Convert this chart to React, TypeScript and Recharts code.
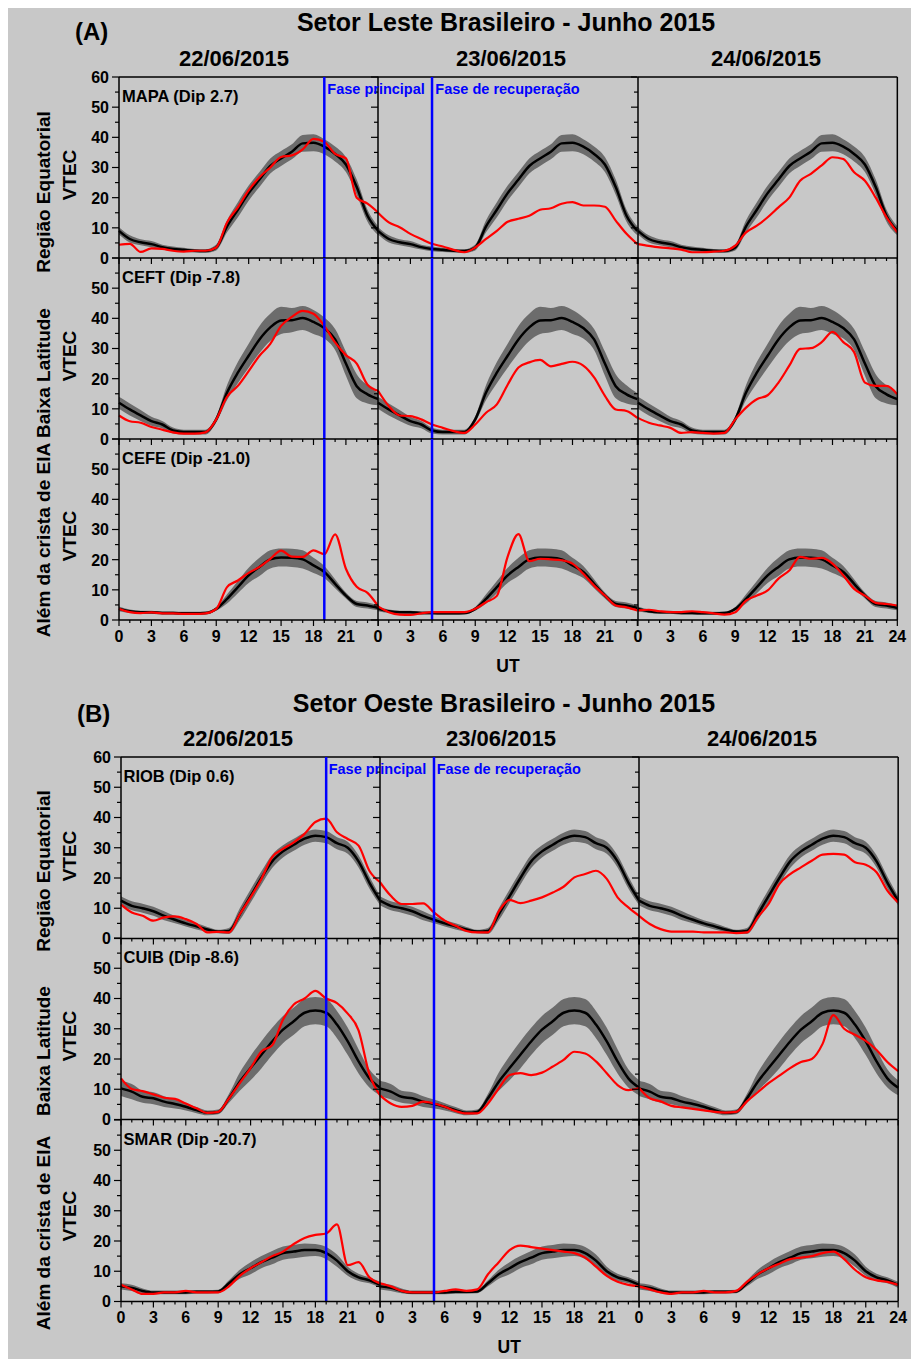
import React from 'react';
import { ComposedChart, Area, Line, XAxis, YAxis, ReferenceLine } from 'recharts';

// ---- data (UT hours, VTEC in TECU) ----
const HOURS = [0, 1, 2, 3, 4, 5, 6, 7, 8, 9, 10, 11, 12, 13, 14, 15, 16, 17, 18, 19, 20, 21, 22, 23, 24];
const VTEC_TICKS = [0, 5, 10, 15, 20, 25, 30, 35, 40, 45, 50, 55, 60];
const DATES = ['22/06/2015', '23/06/2015', '24/06/2015'];
const ROW_LABELS = ['Região Equatorial', 'Baixa Latitude', 'Além da crista de EIA'];
const FASE_LABELS = ['Fase principal', 'Fase de recuperação'];
const FASE_HOURS = [19, 5]; // day 1 and day 2

// quiet-day mean, half width of the grey band, and storm days (3 x 24 h)
const MAPA_MEAN = [9, 6.3, 5.2, 4.6, 3.6, 3, 2.7, 2.4, 2.3, 3.5, 10.5, 16, 21.5, 26, 30.5, 33, 35.2, 38, 38.2, 36.9, 34.5, 31, 23.5, 14, 9];
const MAPA_SPREAD = [1.2, 1.2, 1, 1, 0.8, 0.8, 0.7, 0.6, 0.6, 1, 2, 2.5, 2.5, 2.5, 2.5, 2.5, 2.5, 2.8, 2.8, 2.5, 2.5, 2.5, 2.5, 2, 1.5];
const MAPA_RED = [
  4.4, 4.7, 2, 3.2, 3, 2.4, 2.1, 2.4, 2.4, 3.5, 11.8, 16.8, 22.4, 26.8, 30, 33.5, 34, 36, 39.5, 38.5, 34.5, 33, 20, 18, 15,
  11.8, 10.2, 8, 6.3, 4.7, 3.8, 2.7, 1.9, 3.5, 6.3, 9, 12, 13, 14, 16, 16.5, 18, 18.5, 17.4, 17.4, 17, 12.4, 8, 4.6,
  4, 3.5, 3.2, 2.8, 1.9, 1.9, 2.1, 2.4, 4.1, 8.5, 10.7, 13.5, 16.8, 20, 25.6, 27.9, 30.7, 33.4, 32.8, 28.4, 25.6, 20, 13.5, 8.5,
];

const CEFT_MEAN = [12, 9.8, 7.8, 5.9, 4.8, 2.8, 2.3, 2.3, 2.3, 6.5, 15.4, 22, 27.6, 33, 37, 39.3, 39.4, 40.1, 38.8, 36.8, 33, 25, 17.5, 14.8, 13.2];
const CEFT_SPREAD = [2, 2, 1.8, 1.5, 1.2, 1, 0.8, 0.8, 0.8, 1, 2.5, 3.5, 4, 4.5, 4.5, 4.5, 4, 4, 4, 3.5, 3.5, 4, 4, 3, 2];
const CEFT_RED = [
  7.8, 5.9, 5.4, 4, 3.1, 2.2, 1.8, 1.8, 2.2, 6.5, 14, 17.6, 22.5, 27.6, 31.5, 37.5, 40.5, 42.5, 41.5, 37.5, 32, 27.8, 25, 18, 16,
  10.9, 7.8, 7.6, 6.5, 4.8, 3.7, 2.6, 2, 4.8, 8.7, 11.5, 18, 23.7, 25.4, 26.2, 24.1, 24.9, 25.6, 24.3, 20.4, 14.3, 9.8, 9.3, 7,
  5.4, 4.5, 3.7, 2, 2.3, 2, 1.8, 2, 6.5, 10.4, 13.2, 14.5, 18.7, 24.3, 29.9, 30.1, 32.1, 35.5, 32.1, 28.8, 18.7, 17.6, 17.6, 14.8,
];

const CEFE_MEAN = [3.7, 2.9, 2.6, 2.6, 2.3, 2.3, 2.2, 2.2, 2.3, 3.7, 7, 10.9, 14.8, 17.6, 20.1, 20.7, 20.6, 20.1, 18.1, 15.9, 12, 8.1, 5.3, 4.8, 4];
const CEFE_SPREAD = [0.8, 0.6, 0.5, 0.5, 0.5, 0.5, 0.5, 0.5, 0.5, 0.6, 1.5, 2, 2.5, 3, 3, 3, 3, 3, 2.5, 2, 1.5, 1, 1, 1, 0.8];
const CEFE_RED = [
  3.7, 2.6, 2.3, 2.5, 2.2, 2.2, 2, 2, 2.2, 3.7, 10.9, 13.1, 15.6, 17.6, 20.3, 23, 21, 20.9, 23.1, 21.8, 28.4, 17, 11, 9, 4.5,
  2.6, 1.8, 1.7, 2.2, 2.6, 2.6, 2.6, 2.6, 3.7, 5.9, 8, 21, 28.5, 19.5, 20.3, 20.1, 19.8, 18.7, 15.3, 11.4, 8.1, 4.8, 4.2, 3.2,
  3.4, 2.9, 2.6, 2.6, 2.9, 2.6, 2.2, 1.8, 2.6, 6.4, 8.1, 9.8, 13.7, 16.4, 20.9, 20.3, 20.6, 18.7, 14.8, 10.3, 8.1, 5.7, 5.3, 4.8,
];

const RIOB_MEAN = [12.5, 10.8, 10, 9, 7.5, 6.2, 5, 4, 3, 2.3, 2.5, 8, 14, 20, 25.5, 28.8, 31, 33, 34, 33.5, 31.5, 30, 25.5, 18.5, 12.5];
const RIOB_SPREAD = [1.5, 1.5, 1.5, 1.5, 1.5, 1.2, 1, 1, 0.8, 0.6, 1, 2, 2.2, 2.2, 2.2, 2, 2, 2, 2, 2, 2, 2, 2, 2, 1.5];
const RIOB_RED = [
  11.2, 8.6, 7.5, 5.9, 7, 7.3, 6.4, 4.8, 2, 2.2, 2, 8, 13.6, 19.7, 26.9, 29.6, 31.8, 34.6, 38.5, 39.6, 35.1, 32.9, 30.7, 22.4, 18.6,
  14.1, 11.4, 11.4, 11.6, 8.6, 5.9, 4.2, 2.5, 2, 2, 9, 12.8, 11.7, 12.5, 13.6, 15.2, 17.1, 20.2, 21.3, 22.4, 19.7, 13.6, 10.3, 7.5,
  4.8, 3.1, 2.3, 2.3, 2.3, 2, 2, 2, 1.8, 2, 7, 11.4, 18, 21.3, 23.5, 25.7, 27.7, 28, 27.7, 25.2, 24.4, 21.9, 15.8, 11.9,
];

const CUIB_MEAN = [10.3, 9.2, 7.5, 7, 5.9, 5.1, 4.2, 3.1, 2.2, 2.5, 7, 12.5, 17, 21.4, 25.8, 29.7, 32.5, 35.3, 36, 35.3, 31.4, 25.8, 19.2, 13.6, 10.5];
const CUIB_SPREAD = [2.5, 2.5, 2, 2, 1.8, 1.5, 1.2, 1, 0.8, 0.8, 1.5, 3, 4, 4.5, 4.5, 4.5, 4.5, 4.5, 4.5, 4.5, 4.5, 4.5, 4, 3, 2.5];
const CUIB_RED = [
  13.6, 10.1, 9.4, 8.3, 7.2, 6.8, 5.3, 3.7, 2.2, 2.5, 7, 12, 17, 22.5, 24.5, 33, 38, 40, 42.5, 40, 38.5, 35, 29.5, 15, 8,
  5.3, 4.2, 4.5, 5.9, 5.3, 4.2, 2.8, 2, 2, 5.3, 10.3, 14.7, 15.3, 14.7, 15.5, 17.5, 19.7, 22.4, 21.8, 19.2, 15.3, 11.4, 9.7, 10.4,
  7, 6, 4.5, 4, 3.5, 3, 2.5, 2.3, 2.5, 6, 9, 12, 14.5, 17, 19, 20, 25, 34.5, 30, 28, 26, 23, 19, 16,
];

const SMAR_MEAN = [5, 4.5, 3.5, 3, 3, 3, 3, 3.2, 3.2, 3.3, 6, 9, 11, 13, 14.5, 16, 16.5, 17, 17, 16, 13.5, 10, 8, 7, 5.5];
const SMAR_SPREAD = [1, 1, 0.8, 0.6, 0.6, 0.6, 0.6, 0.6, 0.6, 0.6, 1, 1.5, 2, 2, 2.2, 2.2, 2.2, 2.2, 2, 2, 2, 1.5, 1.2, 1, 1];
const SMAR_RED = [
  5.5, 4, 2.5, 2.5, 3, 3, 3.5, 3, 3, 3, 5, 8.5, 11, 13, 15, 16.5, 19, 21, 22, 22.5, 25.5, 12, 13, 8, 6,
  5, 3.5, 3, 3, 3, 3.5, 4, 3.5, 4, 9, 13, 17, 18.5, 18, 17.5, 17, 16.5, 16, 14.5, 11.5, 8.5, 6.5, 5.5, 5,
  4, 3, 2.5, 3, 3, 3.5, 3, 3, 3.5, 6.5, 9, 11, 12.5, 14, 14.5, 15, 16, 16.5, 14, 10.5, 8, 7, 6.5, 5.5,
];

const STATIONS_A = [
  { label: 'MAPA (Dip 2.7)', mean: MAPA_MEAN, spread: MAPA_SPREAD, red: MAPA_RED },
  { label: 'CEFT (Dip -7.8)', mean: CEFT_MEAN, spread: CEFT_SPREAD, red: CEFT_RED },
  { label: 'CEFE (Dip -21.0)', mean: CEFE_MEAN, spread: CEFE_SPREAD, red: CEFE_RED },
];
const STATIONS_B = [
  { label: 'RIOB (Dip 0.6)', mean: RIOB_MEAN, spread: RIOB_SPREAD, red: RIOB_RED },
  { label: 'CUIB (Dip -8.6)', mean: CUIB_MEAN, spread: CUIB_SPREAD, red: CUIB_RED },
  { label: 'SMAR (Dip -20.7)', mean: SMAR_MEAN, spread: SMAR_SPREAD, red: SMAR_RED },
];

// ---- layout (page pixels) ----
const SECTIONS = [
  {
    tag: '(A)', title: 'Setor Leste Brasileiro - Junho 2015', stations: STATIONS_A,
    left: 119, right: 897, tops: [77, 258, 439], rowH: 181,
    tagPos: [75, 40], titlePos: [506, 31], dateX: [234, 511, 766], dateY: 66,
    rowLabelY: [192, 373, 540], vtecY: [175, 356, 536], utY: 672,
  },
  {
    tag: '(B)', title: 'Setor Oeste Brasileiro - Junho 2015', stations: STATIONS_B,
    left: 120.5, right: 898, tops: [757, 938, 1119.5], rowH: 181.5,
    tagPos: [77, 722], titlePos: [504, 712], dateX: [238, 501, 762], dateY: 746,
    rowLabelY: [871, 1051, 1233], vtecY: [856, 1036, 1216], utY: 1353,
  },
];

const FONT = "'Liberation Sans', Arial, Helvetica, sans-serif";
const BG = '#c8c8c8';
const ML = 46; // room for the VTEC labels
const MR = 16; // room for the last "24"
const RAX = 6; // right frame axis on the last column
const MT = 12;
const MB = 30;

function HourTick({ x, y, payload, showLabel, lastCol }: any) {
  const v = payload.value;
  const major = v % 3 === 0;
  return (
    <g>
      <line x1={x} x2={x} y1={y} y2={y + (major ? 6 : 3)} stroke="#000" strokeWidth={1.2} />
      {showLabel && major && (v < 24 || lastCol) && (
        <text x={x} y={y + 22} textAnchor="middle" fontFamily={FONT} fontWeight="bold" fontSize={16} fill="#000">
          {v}
        </text>
      )}
    </g>
  );
}

function VtecTick({ x, y, payload, showLabel, topRow }: any) {
  const v = payload.value;
  const major = v % 10 === 0;
  return (
    <g>
      <line x1={x} x2={x - (major ? 7 : 4)} y1={y} y2={y} stroke="#000" strokeWidth={1.2} />
      {showLabel && major && (v < 60 || topRow) && (
        <text x={x - 10} y={y + 6} textAnchor="end" fontFamily={FONT} fontWeight="bold" fontSize={16} fill="#000">
          {v}
        </text>
      )}
    </g>
  );
}

function Panel({ st, day, x0, y0, w, h, row }: any) {
  const data = HOURS.map((hr) => ({
    hr,
    band: [st.mean[hr] - st.spread[hr], st.mean[hr] + st.spread[hr]],
    mean: st.mean[hr],
    red: st.red[day * 24 + hr],
  }));
  const lastCol = day === 2;
  const fase = day < FASE_HOURS.length ? FASE_HOURS[day] : null;
  return (
    <div style={{ position: 'absolute', left: x0 - ML, top: y0 - MT }}>
      <ComposedChart
        width={w + ML + MR}
        height={h + MT + MB}
        data={data}
        margin={{ top: MT, right: lastCol ? MR - RAX : MR, bottom: 0, left: 0 }}
      >
        <XAxis
          dataKey="hr"
          type="number"
          domain={[0, 24]}
          ticks={HOURS}
          interval={0}
          height={MB}
          tickSize={0}
          tickMargin={0}
          tickLine={false}
          axisLine={{ stroke: '#000', strokeWidth: 1.5 }}
          tick={(p: any) => <HourTick {...p} showLabel={row === 2} lastCol={lastCol} />}
        />
        <YAxis
          type="number"
          domain={[0, 60]}
          ticks={VTEC_TICKS}
          interval={0}
          width={ML}
          tickSize={0}
          tickMargin={0}
          tickLine={false}
          axisLine={{ stroke: '#000', strokeWidth: 1.5 }}
          tick={(p: any) => <VtecTick {...p} showLabel={day === 0} topRow={row === 0} />}
        />
        {lastCol && (
          <YAxis
            yAxisId="r"
            orientation="right"
            type="number"
            domain={[0, 60]}
            ticks={VTEC_TICKS}
            interval={0}
            width={RAX}
            tickSize={0}
            tickMargin={0}
            tickLine={false}
            axisLine={{ stroke: '#000', strokeWidth: 1.5 }}
            tick={(p: any) => <VtecTick {...p} showLabel={false} />}
          />
        )}
        {row === 0 && <ReferenceLine y={60} stroke="#000" strokeWidth={1.5} />}
        <Area
          dataKey="band"
          type="monotone"
          stroke="none"
          fill="#6c6c6c"
          fillOpacity={1}
          isAnimationActive={false}
        />
        <Line dataKey="mean" type="monotone" stroke="#000" strokeWidth={2.5} dot={false} isAnimationActive={false} />
        <Line dataKey="red" type="monotone" stroke="#ff0000" strokeWidth={2.2} dot={false} isAnimationActive={false} />
        {fase !== null && <ReferenceLine x={fase} stroke="#0000ff" strokeWidth={2.5} />}
      </ComposedChart>
    </div>
  );
}

export default function App() {
  const textStyle = { fontFamily: FONT, fontWeight: 'bold' as const, fill: '#000' };
  return (
    <div style={{ position: 'absolute', left: 0, top: 0, width: 911, height: 1359, background: '#fff', overflow: 'hidden' }}>
      <div style={{ position: 'absolute', left: 8, top: 8, right: 0, bottom: 0, background: BG }} />
      {SECTIONS.map((sec, si) => {
        const colW = (sec.right - sec.left) / 3;
        return sec.stations.map((st, row) =>
          DATES.map((_, day) => (
            <Panel
              key={`${si}-${row}-${day}`}
              st={st}
              day={day}
              row={row}
              x0={sec.left + day * colW}
              y0={sec.tops[row]}
              w={colW}
              h={sec.rowH}
            />
          ))
        );
      })}
      <svg width={911} height={1359} style={{ position: 'absolute', left: 0, top: 0 }}>
        {SECTIONS.map((sec, si) => {
          const colW = (sec.right - sec.left) / 3;
          return (
            <g key={si}>
              <text x={sec.tagPos[0]} y={sec.tagPos[1]} fontSize={24} {...textStyle}>{sec.tag}</text>
              <text x={sec.titlePos[0]} y={sec.titlePos[1]} fontSize={25} textAnchor="middle" {...textStyle}>{sec.title}</text>
              {DATES.map((d, i) => (
                <text key={d} x={sec.dateX[i]} y={sec.dateY} fontSize={22} textAnchor="middle" {...textStyle}>{d}</text>
              ))}
              {sec.stations.map((st, row) => (
                <g key={st.label}>
                  <text x={sec.left + 3} y={sec.tops[row] + 25} fontSize={16.5} {...textStyle}>{st.label}</text>
                  <text transform={`translate(50,${sec.rowLabelY[row]}) rotate(-90)`} textAnchor="middle" fontSize={19} {...textStyle}>
                    {ROW_LABELS[row]}
                  </text>
                  <text transform={`translate(76,${sec.vtecY[row]}) rotate(-90)`} textAnchor="middle" fontSize={19} {...textStyle}>
                    VTEC
                  </text>
                </g>
              ))}
              {FASE_LABELS.map((f, i) => (
                <text
                  key={f}
                  x={sec.left + i * colW + (FASE_HOURS[i] / 24) * colW + 3}
                  y={sec.tops[0] + 17}
                  fontSize={14.5}
                  fontFamily={FONT}
                  fontWeight="bold"
                  fill="#0000ff"
                >
                  {f}
                </text>
              ))}
              <text x={(sec.left + sec.right) / 2} y={sec.utY} fontSize={17.5} textAnchor="middle" {...textStyle}>UT</text>
            </g>
          );
        })}
      </svg>
    </div>
  );
}
